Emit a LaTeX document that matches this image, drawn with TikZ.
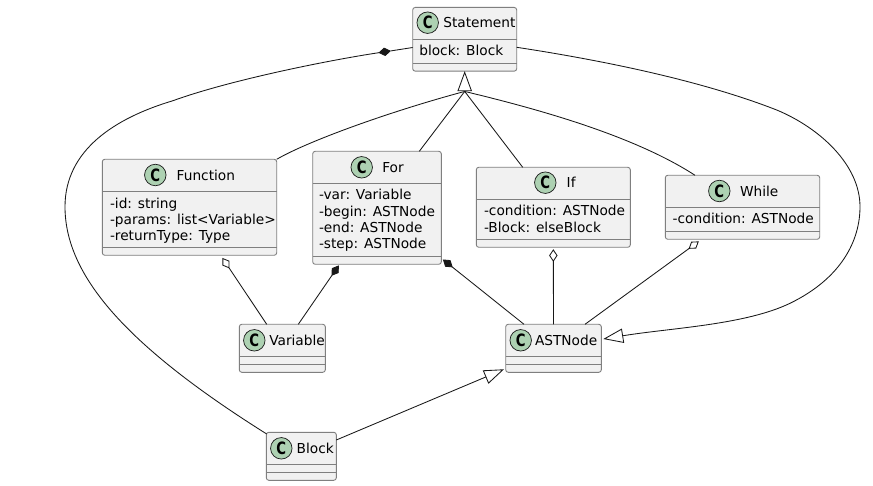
\documentclass[tikz,border=0pt]{standalone}
\usepackage{fontspec}
\usepackage{graphicx}
\setmainfont{DejaVu Sans}
\usetikzlibrary{arrows.meta}
\definecolor{edgec}{HTML}{181818}
\definecolor{boxb}{HTML}{7F7F7F}
\definecolor{boxf}{HTML}{F1F1F1}
\definecolor{spot}{HTML}{ADD1B2}
\tikzset{
  classbox/.style={draw=boxb,fill=boxf,line width=0.9pt,rounded corners=2.5pt,inner sep=0pt,outer sep=0pt},
  divider/.style={draw=boxb,line width=0.9pt},
  spotc/.style={circle,draw=edgec,fill=spot,line width=0.7pt,minimum size=21.5pt,inner sep=0pt,outer sep=0pt,
    font=\fontsize{17pt}{17pt}\selectfont\bfseries},
  label/.style={anchor=base west,inner sep=0pt,outer sep=0pt,text=black,font=\fontsize{13.72pt}{16pt}\selectfont},
  conn/.style={draw=edgec,line width=0.85pt},
  inherit/.style={conn,-{Triangle[open,length=20pt,width=14.4pt,fill=white]}},
  aggr/.style={conn,-{Diamond[open,length=12.6pt,width=8.4pt,fill=white]}},
  comp/.style={conn,-{Diamond[length=12.6pt,width=8.4pt,fill=edgec]}}
}
\newcommand{\spotC}{\scalebox{0.78}[1]{C}}
\begin{document}
\begin{tikzpicture}[x=1pt,y=-1pt]
\useasboundingbox (0,0) rectangle (873,486);
\fill[white] (0,0) rectangle (873,486);

% Statement
\node[classbox,minimum width=104pt,minimum height=63.7pt] (Statement) at (464.7,39.3) {};
\draw[divider] (Statement.west |- 0,39.3) -- (Statement.east |- 0,39.3);
\draw[divider] (Statement.west |- 0,63.3) -- (Statement.east |- 0,63.3);
\node[spotc] (sStatement) at (427.7,22.7) {\spotC};
\node[label] (tStatement) at (443.3,28) {Statement};
\node[label] (mStatement) at (419.3,56) {block: Block};

% Function
\node[classbox,minimum width=174.4pt,minimum height=96pt] (Function) at (189.5,207.3) {};
\draw[divider] (Function.west |- 0,191.3) -- (Function.east |- 0,191.3);
\draw[divider] (Function.west |- 0,247.3) -- (Function.east |- 0,247.3);
\node[spotc] (sFunction) at (155.3,175) {\spotC};
\node[label] (tFunction) at (176.7,180.3) {Function};
\node[label] (mFunctionA) at (110,208.3) {-id: string};
\node[label] (mFunctionB) at (110,224.6) {-params: list<Variable>};
\node[label] (mFunctionC) at (110,240.8) {-returnType: Type};

% For
\node[classbox,minimum width=128.6pt,minimum height=113pt] (For) at (377,207.8) {};
\draw[divider] (For.west |- 0,183.3) -- (For.east |- 0,183.3);
\draw[divider] (For.west |- 0,256) -- (For.east |- 0,256);
\node[spotc] (sFor) at (361.7,167.3) {\spotC};
\node[label] (tFor) at (382.3,172.6) {For};
\node[label] (mForA) at (319,200) {-var: Variable};
\node[label] (mForB) at (319,216.2) {-begin: ASTNode};
\node[label] (mForC) at (319,232.4) {-end: ASTNode};
\node[label] (mForD) at (319,248.6) {-step: ASTNode};

% If
\node[classbox,minimum width=154pt,minimum height=80pt] (If) at (553.3,207.3) {};
\draw[divider] (If.west |- 0,199.3) -- (If.east |- 0,199.3);
\draw[divider] (If.west |- 0,239.3) -- (If.east |- 0,239.3);
\node[spotc] (sIf) at (545.3,182.7) {\spotC};
\node[label] (tIf) at (566.7,188) {If};
\node[label] (mIfA) at (484,216) {-condition: ASTNode};
\node[label] (mIfB) at (484,232.2) {-Block: elseBlock};

% While
\node[classbox,minimum width=154.4pt,minimum height=64pt] (While) at (742.5,207.3) {};
\draw[divider] (While.west |- 0,207.3) -- (While.east |- 0,207.3);
\draw[divider] (While.west |- 0,231.3) -- (While.east |- 0,231.3);
\node[spotc] (sWhile) at (719.3,191) {\spotC};
\node[label] (tWhile) at (740,196.3) {While};
\node[label] (mWhile) at (672.7,224) {-condition: ASTNode};

% Variable
\node[classbox,minimum width=86pt,minimum height=48pt] (Variable) at (282.3,348.3) {};
\draw[divider] (Variable.west |- 0,356.3) -- (Variable.east |- 0,356.3);
\draw[divider] (Variable.west |- 0,364.3) -- (Variable.east |- 0,364.3);
\node[spotc] (sVariable) at (254.3,340.3) {\spotC};
\node[label] (tVariable) at (269.3,345.6) {Variable};

% ASTNode
\node[classbox,minimum width=95.6pt,minimum height=48pt] (ASTNode) at (553.5,348.3) {};
\draw[divider] (ASTNode.west |- 0,356.3) -- (ASTNode.east |- 0,356.3);
\draw[divider] (ASTNode.west |- 0,364.3) -- (ASTNode.east |- 0,364.3);
\node[spotc] (sASTNode) at (520.7,340.3) {\spotC};
\node[label] (tASTNode) at (535,345.6) {ASTNode};

% Block
\node[classbox,minimum width=70pt,minimum height=48pt] (Block) at (301.3,456.3) {};
\draw[divider] (Block.west |- 0,464.3) -- (Block.east |- 0,464.3);
\draw[divider] (Block.west |- 0,472.3) -- (Block.east |- 0,472.3);
\node[spotc] (sBlock) at (281.3,448.3) {\spotC};
\node[label] (tBlock) at (296.7,453.6) {Block};

% Inheritance into Statement
\coordinate (inh) at ([shift={(0,20.3)}]Statement.south);
\draw[inherit] (inh) -- (Statement.south);
\draw[conn] (Function.north east) .. controls (310,140) and (395,110) .. (inh);
\draw[conn] ([shift={(42.3,0)}]For.north) -- (inh);
\draw[conn] ([shift={(-30.6,0)}]If.north) -- (inh);
\draw[conn] ([shift={(-47.5,0)}]While.north) .. controls (630,133) and (525,106) .. (inh);

% Aggregations and compositions
\draw[aggr] ([shift={(-15.6,0)}]Variable.north) -- ([shift={(32.9,2.6)}]Function.south);
\draw[comp] ([shift={(16,0)}]Variable.north) -- ([shift={(-38.2,1.1)}]For.south);
\draw[comp] ([shift={(-29.5,0)}]ASTNode.north) -- ([shift={(1.6,-4.8)}]For.south east);
\draw[aggr] (ASTNode.north) -- ([shift={(0,1.9)}]If.south);
\draw[aggr] ([shift={(31.5,0)}]ASTNode.north) -- ([shift={(-43.7,2.1)}]While.south);

% Block to ASTNode
\draw[inherit] ([shift={(0,-16.3)}]Block.east) -- ([shift={(-1.7,-3)}]ASTNode.south west);

% Statement to ASTNode (long curve)
\draw[inherit] ([shift={(0,8)}]Statement.east)
  .. controls (600,60) and (700,80) .. (776.7,110)
  .. controls (820,128) and (860,165) .. (860,206.7)
  .. controls (860,240) and (842,278) .. (790,303.3)
  .. controls (745,325) and (670,328) .. ([shift={(2,-9.3)}]ASTNode.east);

% Statement to Block (long curve with composition diamond)
\coordinate (sbd) at ([shift={(-21.8,11.6)}]Statement.west);
\draw[comp] ([shift={(0.4,1.7)}]Block.north west)
  .. controls (125,345) and (65,275) .. (65,206.7)
  .. controls (65,150) and (115,118) .. (173,100.7)
  .. controls (230,80) and (330,60) .. (sbd);
\draw[conn] (sbd) -- ([shift={(0,8.2)}]Statement.west);
\end{tikzpicture}
\end{document}
